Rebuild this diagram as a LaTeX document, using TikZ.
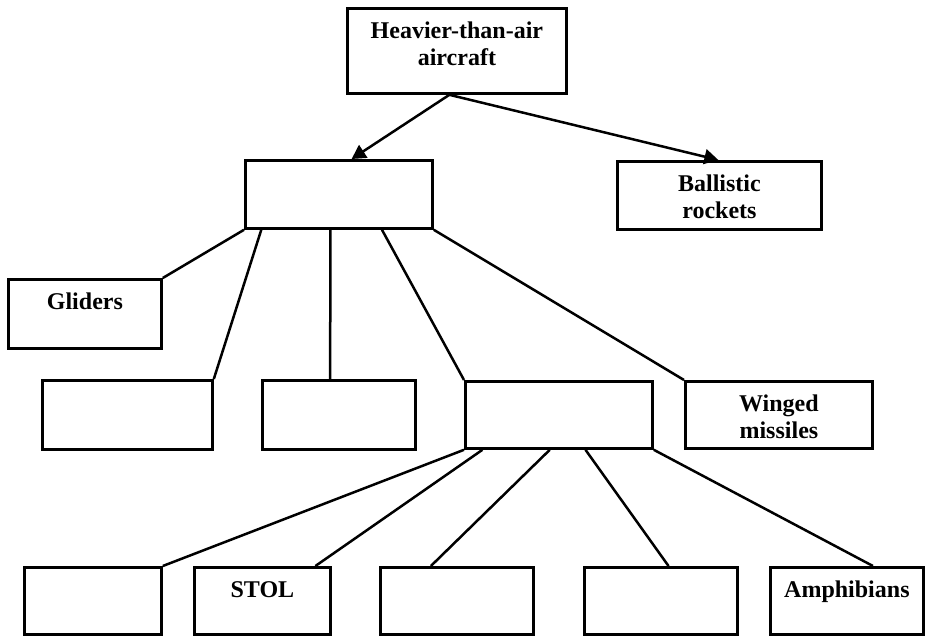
\documentclass[tikz,border=0pt]{standalone}
\usepackage{fontspec}
\setmainfont{Liberation Serif}
\usetikzlibrary{arrows.meta,calc}
\begin{document}
\begin{tikzpicture}[x=1pt,y=-1pt,
  box/.style={draw,line width=2.8pt,rectangle,inner sep=0pt,anchor=north west},
  label text/.style={font=\fontsize{24}{27}\selectfont\bfseries,inner sep=0pt,anchor=base,align=center},
  link/.style={line width=2.5pt},
  arrowlink/.style={line width=2.5pt,-{Triangle[length=14pt,width=15pt]}}]
\useasboundingbox (0,0) rectangle (926,635);
% boxes (top-left corner, size)
\node[box,minimum width=219pt,minimum height=85pt] (top) at (346,7) {};
\node[box,minimum width=187pt,minimum height=68pt] (mid) at (244,159) {};
\node[box,minimum width=204pt,minimum height=68pt] (ball) at (616,160) {};
\node[box,minimum width=153pt,minimum height=69pt] (glid) at (7,278) {};
\node[box,minimum width=170pt,minimum height=69pt] (e1) at (41,379) {};
\node[box,minimum width=153pt,minimum height=69pt] (e2) at (261,379) {};
\node[box,minimum width=187pt,minimum height=67pt] (cen) at (464,380) {};
\node[box,minimum width=187pt,minimum height=67pt] (wing) at (684,380) {};
\node[box,minimum width=137pt,minimum height=67pt] (l1) at (23,566) {};
\node[box,minimum width=136pt,minimum height=67pt] (stol) at (193,566) {};
\node[box,minimum width=153pt,minimum height=67pt] (l3) at (379,566) {};
\node[box,minimum width=153pt,minimum height=67pt] (l4) at (583,566) {};
\node[box,minimum width=153pt,minimum height=67pt] (amph) at (769,566) {};
% texts (base anchor sits on the last line)
\node[label text] (ttop) at ($(top.north)+(0,58)$) {Heavier-than-air\\aircraft};
\node[label text] (tball) at ($(ball.north)+(0,58)$) {Ballistic\\rockets};
\node[label text] (tglid) at ($(glid.north)+(0,31)$) {Gliders};
\node[label text] (twing) at ($(wing.north)+(0,58)$) {Winged\\missiles};
\node[label text] (tstol) at ($(stol.north)+(0,31)$) {STOL};
\node[label text] (tamph) at ($(amph.north)+(0,31)$) {Amphibians};
% arrows from the top box
\draw[arrowlink] ($(top.south west)!0.466!(top.south east)$) -- ($(mid.north west)!0.567!(mid.north east)$);
\draw[arrowlink] ($(top.south west)!0.466!(top.south east)$) -- ($(ball.north west)!0.495!(ball.north east)$);
% branches below the middle box
\draw[link] (mid.south west) -- (glid.north east);
\draw[link] ($(mid.south west)!0.091!(mid.south east)$) -- (e1.north east);
\draw[link] ($(mid.south west)!0.455!(mid.south east)$) -- ($(e2.north west)!0.444!(e2.north east)$);
\draw[link] ($(mid.south west)!0.727!(mid.south east)$) -- (cen.north west);
\draw[link] (mid.south east) -- (wing.north west);
% branches below the central box
\draw[link] (cen.south west) -- (l1.north east);
\draw[link] ($(cen.south west)!0.097!(cen.south east)$) -- ($(stol.north west)!0.882!(stol.north east)$);
\draw[link] ($(cen.south west)!0.452!(cen.south east)$) -- ($(l3.north west)!0.333!(l3.north east)$);
\draw[link] ($(cen.south west)!0.64!(cen.south east)$) -- ($(l4.north west)!0.549!(l4.north east)$);
\draw[link] (cen.south east) -- ($(amph.north west)!0.667!(amph.north east)$);
\end{tikzpicture}
\end{document}
